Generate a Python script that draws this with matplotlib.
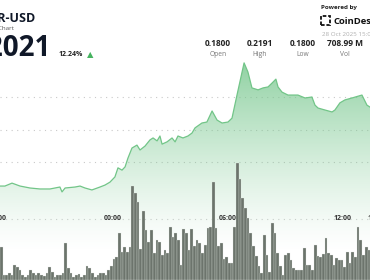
import numpy as np
import matplotlib.pyplot as plt
from matplotlib.transforms import blended_transform_factory
from matplotlib.patches import Rectangle

plt.rcParams['font.family'] = ['Open Sans', 'DejaVu Sans']

# price line (hours relative to 00:00, price in USD)
hours = [-5.90, -5.64, -5.27, -4.85, -4.33, -3.81, -3.29, -3.03, -2.77, -2.66,
         -2.50, -1.98, -1.72, -1.46, -1.10, -0.68, -0.42, -0.16, 0.10, 0.26,
         0.47, 0.63, 0.78, 0.99, 1.25, 1.41, 1.67, 1.93, 2.09, 2.30,
         2.45, 2.56, 2.82, 3.08, 3.24, 3.39, 3.65, 3.91, 4.12, 4.28,
         4.64, 4.90, 5.17, 5.43, 5.69, 6.00, 6.21, 6.47, 6.84, 7.04,
         7.25, 7.57, 7.83, 8.09, 8.30, 8.50, 8.61, 8.82, 9.13, 9.65,
         10.02, 10.38, 10.54, 10.70, 11.06, 11.43, 11.58, 11.84, 12.10, 12.47,
         12.99, 13.25, 13.41]
price = [0.1826, 0.1826, 0.1835, 0.1826, 0.1820, 0.1817, 0.1817, 0.1820, 0.1823, 0.1808,
         0.1820, 0.1823, 0.1826, 0.1820, 0.1814, 0.1823, 0.1829, 0.1838, 0.1854, 0.1882,
         0.1875, 0.1885, 0.1912, 0.1943, 0.1952, 0.1937, 0.1949, 0.1968, 0.1974, 0.1965,
         0.1980, 0.1955, 0.1962, 0.1974, 0.1962, 0.1980, 0.1974, 0.1980, 0.1989, 0.2005,
         0.2020, 0.2023, 0.2057, 0.2029, 0.2020, 0.2023, 0.2035, 0.2106, 0.2205, 0.2177,
         0.2128, 0.2122, 0.2128, 0.2131, 0.2143, 0.2155, 0.2131, 0.2115, 0.2106, 0.2106,
         0.2097, 0.2100, 0.2075, 0.2066, 0.2060, 0.2054, 0.2060, 0.2082, 0.2091, 0.2097,
         0.2106, 0.2075, 0.2069]

# volume per bar (millions)
volume = [6.6, 1.0, 1.0, 1.4, 1.0, 3.0, 2.6, 2.0, 1.0, 0.6, 1.0, 2.0, 1.4, 1.0, 1.4, 1.0,
          0.8, 1.4, 2.6, 1.6, 0.6, 1.0, 1.0, 1.4,
          7.4, 2.4, 1.4, 0.6, 1.0, 1.2, 0.6, 1.0, 2.8, 2.4, 1.4, 0.6, 1.0, 1.4, 1.4, 1.0,
          2.0, 2.8, 4.2, 4.6, 9.4, 5.6, 6.6,
          5.6, 6.6, 18.8, 17.4, 15.6, 6.2, 13.8, 10.0, 7.6, 10.0, 5.4, 8.0, 7.6, 5.0, 6.0,
          5.4, 10.6, 8.6, 9.4, 8.0, 3.0, 10.2,
          9.4, 6.0, 10.2, 6.8, 8.0, 7.4, 5.4, 7.0, 10.4, 10.6, 19.6, 10.4, 6.8, 7.4, 4.2,
          4.6, 3.4, 3.4, 10.6, 23.4, 20.2, 16.4, 14.4, 12.4, 9.4, 6.8, 4.8, 2.8, 1.4, 9.0,
          5.0, 1.6, 11.4, 9.4, 5.4, 2.8, 1.0, 5.0, 5.4, 4.0, 2.4, 2.0, 2.0, 2.0, 6.4, 3.0,
          3.0, 2.0, 7.0, 4.8, 4.6, 5.2, 8.4, 5.4, 5.0, 3.0, 4.4, 4.0, 4.0, 2.6, 5.6, 3.4,
          5.6, 4.6, 10.6, 8.0, 5.0, 6.6, 6.0]
bar_start = -5.83
bar_step = 0.14  # hours per bar

tick_hours = [-6, 0, 6, 12, 13.75]
tick_labels = ['18:00', '00:00', '06:00', '12:00', '13:45']
grid_prices = [0.19, 0.20, 0.21]

stat_values = ['0.1800', '0.2191', '0.1800', '708.99 M']
stat_names = ['Open', 'High', 'Low', 'Vol']

W, H = 370, 280
fig = plt.figure(figsize=(3.7, 2.8), dpi=100)
ax = fig.add_axes([0, 0, 1, 1])
ax.axis('off')
xlim = (-5.896, 13.41)
ylim = (0.15369, 0.23985)

for g in grid_prices:
    ax.axhline(g, color='#c9c9c9', lw=0.8, ls=(0, (1, 4)), zorder=1)
ax.axhline(ylim[0] + (ylim[1] - ylim[0]) * 61 / 280,
           color='#cfcfcf', lw=0.8, ls=(0, (1, 4)), zorder=1)

# gradient fill under the line
poly = ax.fill_between(hours, price, 0.15, color='none', lw=0)
top, bot = max(price), 0.162
grad = np.linspace(0, 1, 256).reshape(-1, 1)
img = np.zeros((256, 1, 4))
img[..., 0] = 0.46
img[..., 1] = 0.78
img[..., 2] = 0.55
img[..., 3] = (1 - grad) ** 1.3 * 0.8
im = ax.imshow(img, extent=[hours[0], hours[-1], bot, top], origin='upper',
               aspect='auto', zorder=2, interpolation='bilinear')
im.set_clip_path(poly.get_paths()[0], transform=ax.transData)
ax.plot(hours, price, color='#72c588', lw=0.9, zorder=3, solid_joinstyle='round')
ax.set_xlim(*xlim)
ax.set_ylim(*ylim)

# volume bars
ax2 = ax.twinx()
ax2.set_ylim(0, 56)
ax2.axis('off')
bx = bar_start + bar_step * np.arange(len(volume))
ax2.bar(bx, volume, width=bar_step, color='#6c746c', edgecolor='#e3e8e3', lw=0.2, zorder=4)
ax2.set_xlim(*xlim)

tr = blended_transform_factory(ax.transData, ax.transAxes)
for h, lab in zip(tick_hours, tick_labels):
    ax.text(h, 61 / 280, lab, transform=tr, ha='center', va='center', fontsize=5,
            fontweight='bold', color='#333333', zorder=6)


def ft(x, y, s, **kw):
    fig.text(x / W, 1 - y / H, s, **kw)


ft(36, 18, 'HBAR-USD', ha='right', va='center', fontsize=9, fontweight='bold', color='#101828')
ft(14, 28, 'Price Chart', ha='right', va='center', fontsize=4.5, color='#555555')
ft(50, 48, '0.2021', ha='right', va='center', fontsize=20, fontweight='bold', color='#101828',
   family=['Liberation Sans Narrow', 'Open Sans'])
ft(59, 55, '12.24%', ha='left', va='center', fontsize=5, fontweight='bold', color='#222222')
ft(87, 55, '▲', ha='left', va='center', fontsize=6, color='#45b35f', family='DejaVu Sans')

ft(321, 7, 'Powered by', ha='left', va='center', fontsize=4.5, fontweight='bold', color='#222222')
fig.patches.append(Rectangle((321 / W, 1 - 25 / H), 9 / W, 9 / H, transform=fig.transFigure,
                             fill=False, lw=1.3, ec='#111111', ls=(0, (2, 1))))
ft(333, 21, 'CoinDesk', ha='left', va='center', fontsize=6.8, fontweight='bold', color='#111111')
ft(322, 34, '28 Oct 2025 15:00 UTC', ha='left', va='center', fontsize=4.5, color='#b0b0b0')

for cx, v, n in zip([218, 260, 303, 345], stat_values, stat_names):
    ft(cx, 44, v, ha='center', va='center', fontsize=6, fontweight='bold', color='#222222')
    ft(cx, 54, n, ha='center', va='center', fontsize=4.8, color='#777777')

fig.savefig('out.png', dpi=100)
